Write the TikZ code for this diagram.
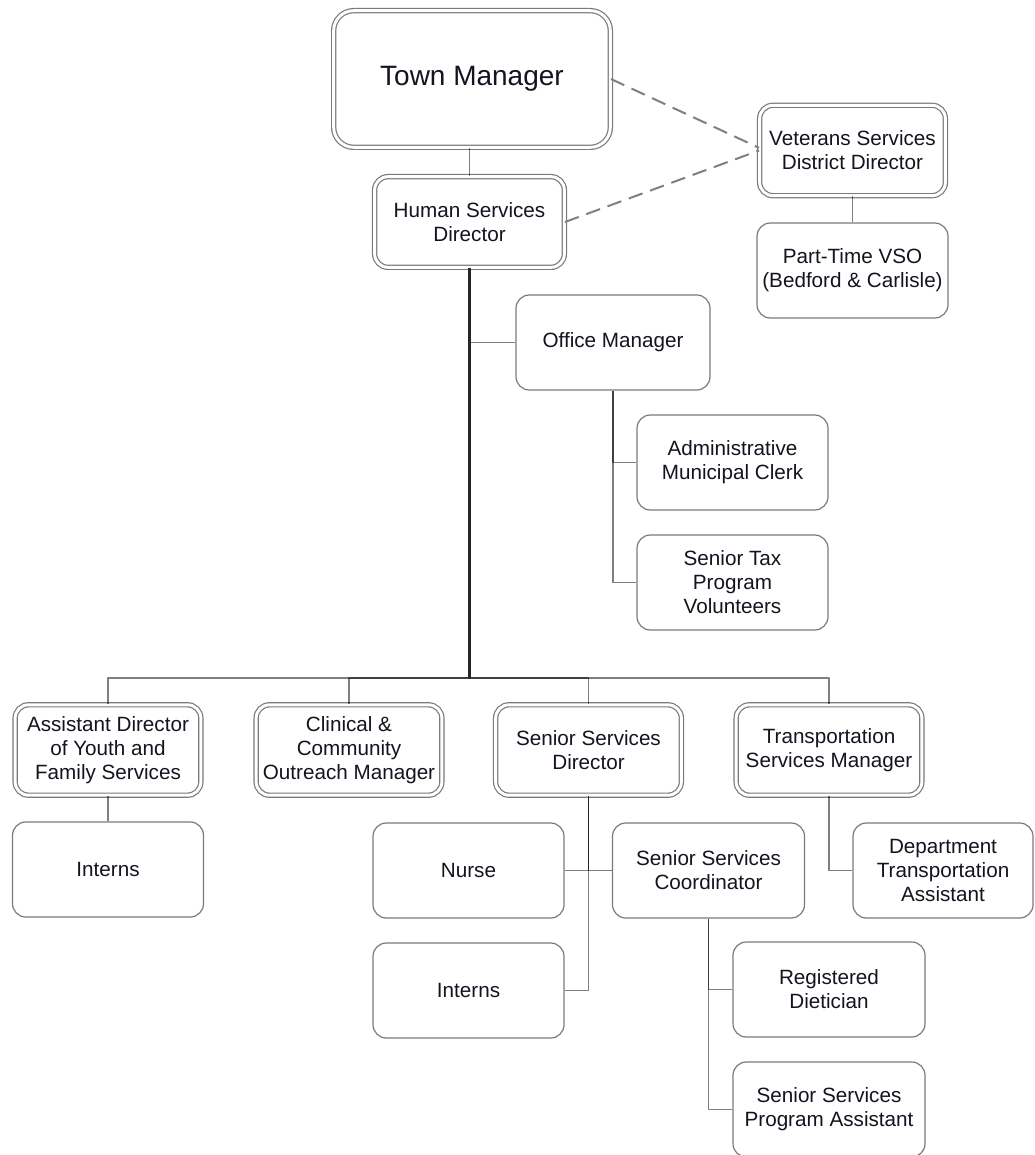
\documentclass[tikz,border=0pt]{standalone}
\usepackage{fontspec}
\setmainfont{Liberation Sans}
\definecolor{bordergray}{HTML}{7A7A7A}
\definecolor{textc}{HTML}{141420}
\begin{document}
\begin{tikzpicture}[x=0.75pt,y=-0.75pt,
  base/.style={rounded corners=10pt, draw=bordergray, line width=0.9pt, fill=white, align=center, inner sep=0pt, font=\fontsize{15.5}{18}\selectfont, text=textc},
  sbox/.style={base, minimum width=144pt, minimum height=71.25pt},
  dbox/.style={base, double=white, double distance=2.2pt, minimum width=139.3pt, minimum height=67.8pt},
  conn/.style={draw=black, draw opacity=0.5, line width=0.9pt, line join=round},
  trunk/.style={draw=black!85, line width=1.6pt},
  dashline/.style={draw=gray, line width=1.5pt, dash pattern=on 11pt off 6pt}]
\fill[white] (0,0) rectangle (1034,1155);
\useasboundingbox (0,0) rectangle (1034,1155);

% nodes
\node[dbox, minimum width=207.5pt, minimum height=102.5pt, rounded corners=15pt, font=\fontsize{21}{24}\selectfont] (TM) at (472,79) {Town Manager};
\node[dbox, minimum width=142.3pt, minimum height=68pt] (HSD) at (469.5,222) {Human Services\\Director};
\node[dbox] (VSDD) at (852.5,150.5) {Veterans Services\\District Director};
\node[sbox, minimum width=143.25pt] (PTV) at (852.5,270.5) {Part-Time VSO\\(Bedford \& Carlisle)};
\node[sbox, minimum width=145.5pt] (OM) at (613,342.5) {Office Manager};
\node[sbox, minimum width=143.25pt] (AMC) at (732.5,462.5) {Administrative\\Municipal Clerk};
\node[sbox, minimum width=143.25pt] (STPV) at (732.5,582.5) {Senior Tax\\Program\\Volunteers};
\node[dbox] (AD) at (108,750) {Assistant Director\\of Youth and\\Family Services};
\node[dbox] (CCOM) at (349,750) {Clinical \&\\Community\\Outreach Manager};
\node[dbox] (SSD) at (588.5,750) {Senior Services\\Director};
\node[dbox] (TSM) at (829,750) {Transportation\\Services Manager};
\node[sbox, minimum width=143.25pt] (Int1) at (108,869.5) {Interns};
\node[sbox, minimum width=143.25pt] (Nurse) at (468.5,870.5) {Nurse};
\node[sbox, minimum width=143.25pt] (Int2) at (468.5,990.5) {Interns};
\node[sbox] (SSC) at (708.5,870.5) {Senior Services\\Coordinator};
\node[sbox, minimum width=135pt] (DTA) at (943,870.5) {Department\\Transportation\\Assistant};
\node[sbox] (RD) at (829,989.5) {Registered\\Dietician};
\node[sbox] (SSPA) at (829,1109.5) {Senior Services\\Program Assistant};

\coordinate (busL) at (108,678);

% connectors
\draw[conn] (HSD.north) -- (HSD.north |- TM.south);
\draw[conn] (VSDD.south) -- (PTV.north);
\draw[conn] (HSD.south) |- (OM.west);
\draw[conn] (HSD.south) -- (HSD.south |- busL) -- (AD.north |- busL) -- (AD.north);
\draw[conn] (HSD.south) -- (HSD.south |- busL) -- (CCOM.north |- busL) -- (CCOM.north);
\draw[conn] (HSD.south) -- (HSD.south |- busL) -- (SSD.north |- busL) -- (SSD.north);
\draw[conn] (HSD.south) -- (HSD.south |- busL) -- (TSM.north |- busL) -- (TSM.north);
\draw[trunk] (HSD.south) -- (HSD.south |- busL);
\draw[conn] (OM.south) |- (AMC.west);
\draw[conn] (OM.south) |- (STPV.west);
\draw[conn] (AD.south) -- (Int1.north);
\draw[conn] (SSD.south) |- (Nurse.east);
\draw[conn] (SSD.south) |- (SSC.west);
\draw[conn] (SSD.south) |- (Int2.east);
\draw[trunk, line width=1.3pt] (SSD.south) -- (SSD.south |- Nurse.east);
\draw[conn] (SSC.south) |- (RD.west);
\draw[conn] (SSC.south) |- (SSPA.west);
\draw[conn] (TSM.south) |- (DTA.west);

% dashed links
\draw[dashline] (TM.east) -- ([yshift=2pt]VSDD.west);
\draw[dashline] (HSD.east) -- (VSDD.west);
\end{tikzpicture}
\end{document}
